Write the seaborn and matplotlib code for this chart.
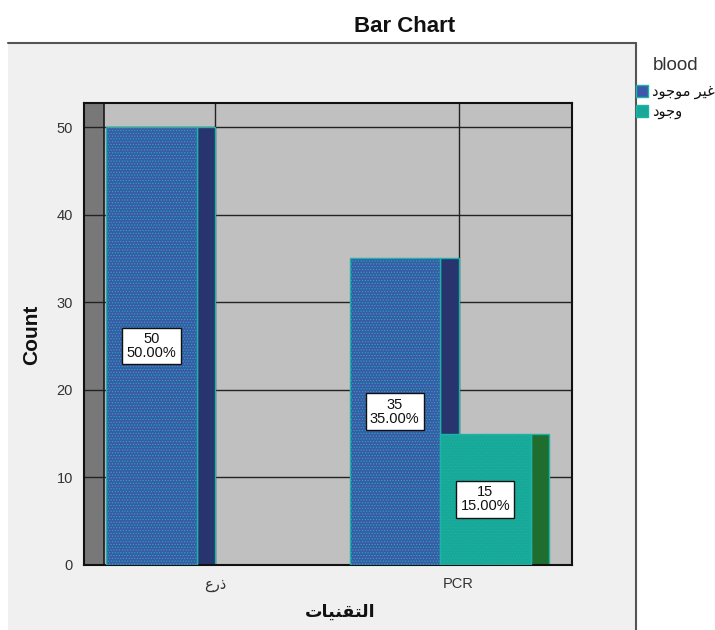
import numpy as np
import pandas as pd
import matplotlib
matplotlib.use("Agg")
import matplotlib.pyplot as plt
from matplotlib.patches import Rectangle, Patch
from matplotlib.lines import Line2D
import seaborn as sns

# ---- data -------------------------------------------------------------
techniques = ["ذرع", "PCR"]
blood_levels = ["غير موجود", "وجود"]
counts_absent = [50, 35]
counts_present = [0, 15]
percent_absent = [50.00, 35.00]
percent_present = [0.00, 15.00]
y_ticks = [0, 10, 20, 30, 40, 50]

# ---- simple Arabic shaping (contextual forms + right-to-left order) ----
_FORMS = {
    # letter: (isolated, final, initial, medial)
    "ا": ("\uFE8D", "\uFE8E", None, None),
    "ذ": ("\uFEAB", "\uFEAC", None, None),
    "ر": ("\uFEAD", "\uFEAE", None, None),
    "و": ("\uFEED", "\uFEEE", None, None),
    "د": ("\uFEA9", "\uFEAA", None, None),
    "ل": ("\uFEDD", "\uFEDE", "\uFEDF", "\uFEE0"),
    "ت": ("\uFE95", "\uFE96", "\uFE97", "\uFE98"),
    "ق": ("\uFED5", "\uFED6", "\uFED7", "\uFED8"),
    "ن": ("\uFEE5", "\uFEE6", "\uFEE7", "\uFEE8"),
    "ي": ("\uFEF1", "\uFEF2", "\uFEF3", "\uFEF4"),
    "ع": ("\uFEC9", "\uFECA", "\uFECB", "\uFECC"),
    "غ": ("\uFECD", "\uFECE", "\uFECF", "\uFED0"),
    "م": ("\uFEE1", "\uFEE2", "\uFEE3", "\uFEE4"),
    "ج": ("\uFE9D", "\uFE9E", "\uFE9F", "\uFEA0"),
}


def shape_arabic(text):
    if not any(c in _FORMS for c in text):
        return text
    out = []
    for i, ch in enumerate(text):
        if ch not in _FORMS:
            out.append(ch)
            continue
        iso, fin, ini, med = _FORMS[ch]
        prev = text[i - 1] if i > 0 else ""
        nxt = text[i + 1] if i + 1 < len(text) else ""
        joins_prev = prev in _FORMS and _FORMS[prev][2] is not None
        joins_next = ini is not None and nxt in _FORMS
        if joins_prev and joins_next:
            out.append(med)
        elif joins_prev:
            out.append(fin)
        elif joins_next:
            out.append(ini)
        else:
            out.append(iso)
    return "".join(reversed(out))


# ---- style ------------------------------------------------------------
sns.set_style("white")
FONTS = ["Liberation Sans", "DejaVu Sans"]
plt.rcParams["font.family"] = FONTS
plt.rcParams["hatch.linewidth"] = 0.5

W, H = 715, 630
front_colors = ["#3c58aa", "#17a898"]
side_colors = ["#27346e", "#1f6e2f"]
edge_color = "#1db3a7"
hatch_colors = ["#4f6cc0", "#2cb8a6"]

df = pd.DataFrame({
    "technique": techniques * 2,
    "blood": [blood_levels[0]] * len(techniques) + [blood_levels[1]] * len(techniques),
    "count": counts_absent + counts_present,
    "percent": percent_absent + percent_present,
})

fig = plt.figure(figsize=(W / 100, H / 100), dpi=100)
fig.patch.set_facecolor("white")

# outer chart panel
fig.add_artist(Rectangle((8 / W, 0), 628 / W, (H - 43) / H, transform=fig.transFigure,
                         facecolor="#f0f0f0", edgecolor="none", zorder=-10))
fig.add_artist(Line2D([8 / W, 636 / W], [1 - 43 / H] * 2, transform=fig.transFigure,
                      color="#555555", lw=1.5, zorder=-9))
fig.add_artist(Line2D([636 / W, 636 / W], [0, 1 - 43 / H], transform=fig.transFigure,
                      color="#555555", lw=1.5, zorder=-9))

ax = fig.add_axes([84 / W, 1 - 565 / H, 488 / W, 462 / H])
ax.set_facecolor("#c0c0c0")

sns.barplot(data=df, x="technique", y="count", hue="blood",
            order=techniques, hue_order=blood_levels,
            palette=front_colors, saturation=1, width=0.745, gap=0,
            errorbar=None, edgecolor=edge_color, linewidth=1,
            legend=False, ax=ax, zorder=3)

depth = 0.076          # sideways depth of the 3-D bars (category units)
x_left, x_right = -0.465, 1.543
y_top = 52.74
wall_w = 0.082

for k, container in enumerate(ax.containers):
    lvl = blood_levels[k]
    sub = df[df["blood"] == lvl].set_index("technique").loc[techniques]
    for bar, cnt, pct in zip(container.patches, sub["count"], sub["percent"]):
        if cnt <= 0:
            bar.set_visible(False)
            continue
        bar.set_hatch("......")
        if hasattr(bar, "set_hatchcolor"):
            bar.set_hatchcolor(hatch_colors[k])
        x0, w = bar.get_x(), bar.get_width()
        ax.add_patch(Rectangle((x0 + w, 0), depth, cnt, facecolor=side_colors[k],
                               edgecolor=edge_color, lw=1, zorder=2.5))
        ax.text(x0 + w / 2, cnt / 2, f"{cnt}\n{pct:.2f}%", ha="center", va="center",
                fontsize=10.5, color="#111111", linespacing=1.0, zorder=6,
                bbox=dict(boxstyle="square,pad=0.3", facecolor="white",
                          edgecolor="#111111", lw=1))

# side wall on the left
ax.add_patch(Rectangle((x_left, 0), wall_w, y_top, facecolor="#787878",
                       edgecolor="none", zorder=0.3))
ax.axvline(x_left + wall_w, color="#1a1a1a", lw=1.2, zorder=0.6)

ax.set_xlim(x_left, x_right)
ax.set_ylim(0, y_top)
ax.set_axisbelow(True)
ax.grid(True, color="#222222", lw=1)

ax.set_yticks(y_ticks)
ax.set_yticklabels([str(t) for t in y_ticks])
ax.set_xticks([i + depth for i in range(len(techniques))])
ax.set_xticklabels([shape_arabic(t) for t in techniques])
ax.tick_params(axis="y", length=6, width=1, color="#111111", pad=2,
               labelsize=10.5, labelcolor="#333333")
ax.tick_params(axis="x", length=5, width=1, color="#111111", pad=4,
               labelsize=10.5, labelcolor="#333333")
ax.set_xlabel("")
ax.set_ylabel("")
for s in ax.spines.values():
    s.set_visible(True)
    s.set_color("#111111")
    s.set_linewidth(1.5)

fig.text(405 / W, 1 - 26 / H, "Bar Chart", ha="center", va="center",
         fontsize=16, fontweight="bold", color="#111111")
fig.text(32 / W, 1 - 335 / H, "Count", ha="center", va="center", rotation=90,
         fontsize=15, fontweight="bold", color="#111111")
fig.text(340 / W, 1 - 612 / H, shape_arabic("التقنيات"), ha="center", va="center",
         fontsize=12.5, fontweight="bold", color="#111111", family=FONTS)

handles = [Patch(facecolor=front_colors[i], edgecolor=edge_color, lw=1)
           for i in range(len(blood_levels))]
leg = fig.legend(handles, [shape_arabic(b) for b in blood_levels], title="blood",
                 loc="upper left", bbox_to_anchor=(636 / W, 1 - 57 / H),
                 frameon=False, fontsize=10.5, title_fontsize=13.5,
                 handlelength=0.85, handleheight=0.85, handletextpad=0.25,
                 labelspacing=0.4, borderaxespad=0, borderpad=0)
leg._legend_box.sep = 8
leg.get_title().set_color("#333333")
for t in leg.get_texts():
    t.set_color("#111111")

fig.savefig("out.png", dpi=100)
